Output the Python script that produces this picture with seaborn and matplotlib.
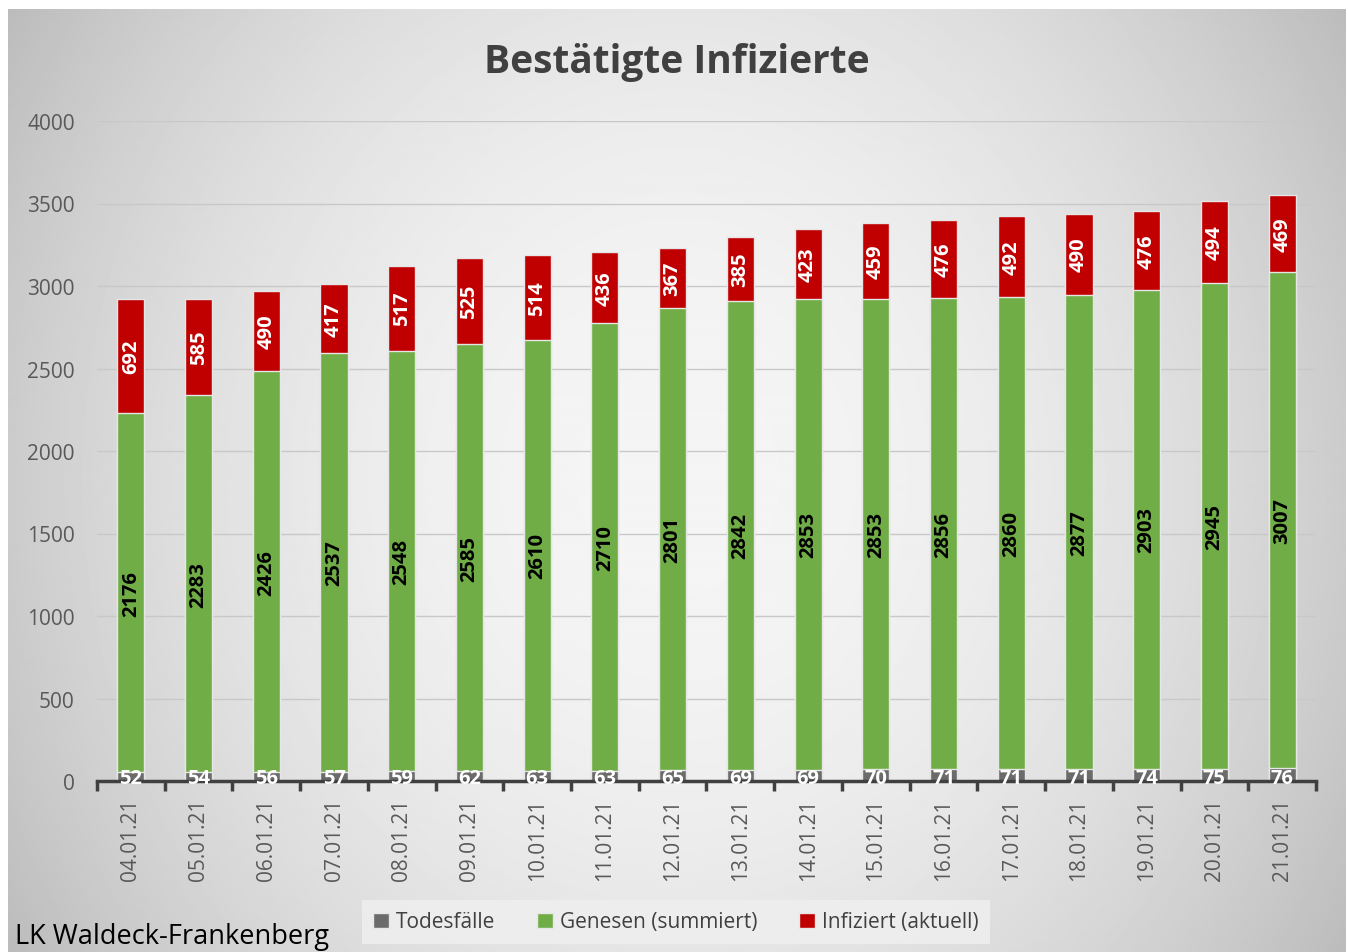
import numpy as np
import pandas as pd
import matplotlib
matplotlib.use("Agg")
import matplotlib.pyplot as plt
import seaborn as sns
from matplotlib.patches import Patch

dates = ["04.01.21", "05.01.21", "06.01.21", "07.01.21", "08.01.21", "09.01.21",
         "10.01.21", "11.01.21", "12.01.21", "13.01.21", "14.01.21", "15.01.21",
         "16.01.21", "17.01.21", "18.01.21", "19.01.21", "20.01.21", "21.01.21"]
todesfaelle = [52, 54, 56, 57, 59, 62, 63, 63, 65, 69, 69, 70, 71, 71, 71, 74, 75, 76]
genesen = [2176, 2283, 2426, 2537, 2548, 2585, 2610, 2710, 2801, 2842, 2853, 2853,
           2856, 2860, 2877, 2903, 2945, 3007]
infiziert = [692, 585, 490, 417, 517, 525, 514, 436, 367, 385, 423, 459, 476, 492,
             490, 476, 494, 469]
yticks = [0, 500, 1000, 1500, 2000, 2500, 3000, 3500, 4000]

title = "Bestätigte Infizierte"
series_names = ["Todesfälle", "Genesen (summiert)", "Infiziert (aktuell)"]
colors = ["#6b6b6b", "#70ad47", "#c00000"]
footer = "LK Waldeck-Frankenberg"

sns.set_theme(style="white")
plt.rcParams["font.family"] = ["Open Sans", "DejaVu Sans"]

W, H = 1348, 953
fig = plt.figure(figsize=(W / 100, H / 100), dpi=100)
fig.patch.set_facecolor("white")

# background gradient panel
bg = fig.add_axes([8 / W, 0, (1346 - 8) / W, (H - 10) / H], zorder=0)
yy, xx = np.mgrid[10:H:2, 8:1346:2]
d2 = ((xx - 677) / 720.0) ** 2 + ((yy - 480) / 820.0) ** 2
val = np.clip(245 - 48 * d2, 170, 250) / 255.0
bg.imshow(val, cmap="gray", vmin=0, vmax=1, aspect="auto",
          extent=[0, 1, 0, 1], interpolation="bilinear")
bg.set_axis_off()

ax = fig.add_axes([97 / W, (H - 782) / H, (1316 - 97) / W, (782 - 122) / H], zorder=1)
ax.patch.set_alpha(0)

df = pd.DataFrame({"date": dates, "tod": todesfaelle, "gen": genesen, "inf": infiziert})
df["c1"] = df["tod"]
df["c2"] = df["tod"] + df["gen"]
df["c3"] = df["c2"] + df["inf"]

edge = "#e6e6e6"
for col, c in [("c3", colors[2]), ("c2", colors[1]), ("c1", colors[0])]:
    sns.barplot(data=df, x="date", y=col, color=c, width=0.4, ax=ax,
                edgecolor=edge, linewidth=1.0, saturation=1, zorder=3)

ax.set_ylim(0, 4000)
ax.set_xlim(-0.5, len(dates) - 0.5)
ax.set_yticks(yticks)
ax.yaxis.grid(True, color="#c8c8c8", linewidth=1.0)
ax.set_axisbelow(True)
ax.set_xlabel("")
ax.set_ylabel("")
for s in ["top", "right", "left"]:
    ax.spines[s].set_visible(False)
ax.spines["bottom"].set_color("#404040")
ax.spines["bottom"].set_linewidth(2.5)
ax.spines["bottom"].set_zorder(4)

ax.tick_params(axis="y", length=0, labelsize=15, labelcolor="#595959", pad=16)
ax.set_xticks(range(len(dates)))
ax.set_xticklabels(dates, rotation=90, fontsize=15, color="#595959")
ax.tick_params(axis="x", length=0, pad=12)
ax.set_xticks(np.arange(-0.5, len(dates), 1), minor=True)
ax.tick_params(axis="x", which="minor", length=7, width=2.5, color="#404040",
               direction="out", bottom=True)

# data labels
for i in range(len(dates)):
    t, g, f = todesfaelle[i], genesen[i], infiziert[i]
    ax.text(i, 16, str(t), ha="center", va="center", color="white",
            fontsize=14.5, fontweight="bold", zorder=5, clip_on=False)
    ax.text(i, t + g / 2, str(g), ha="center", va="center", rotation=90,
            color="black", fontsize=14.5, fontweight="bold", zorder=5)
    ax.text(i, t + g + f / 2, str(f), ha="center", va="center", rotation=90,
            color="white", fontsize=14.5, fontweight="bold", zorder=5)

fig.text(677 / W, 1 - 62 / H, title, ha="center", va="center", fontsize=28,
         fontweight="bold", color="#404040")

handles = [Patch(facecolor=c, edgecolor=edge, linewidth=1) for c in colors]
leg = fig.legend(handles, series_names, loc="center", ncol=3,
                 bbox_to_anchor=(676 / W, 1 - 923 / H), frameon=True,
                 fontsize=15, handlelength=0.75, handleheight=0.75,
                 handletextpad=0.35, columnspacing=2.0, borderpad=0.55,
                 fancybox=False)
leg.get_frame().set_facecolor("#efefef")
leg.get_frame().set_edgecolor("none")
leg.get_frame().set_alpha(0.85)
for t in leg.get_texts():
    t.set_color("#404040")

fig.text(15 / W, 1 - 944 / H, footer, ha="left", va="baseline", fontsize=19.5,
         color="black")

fig.savefig("out.png", dpi=100, facecolor="white")
